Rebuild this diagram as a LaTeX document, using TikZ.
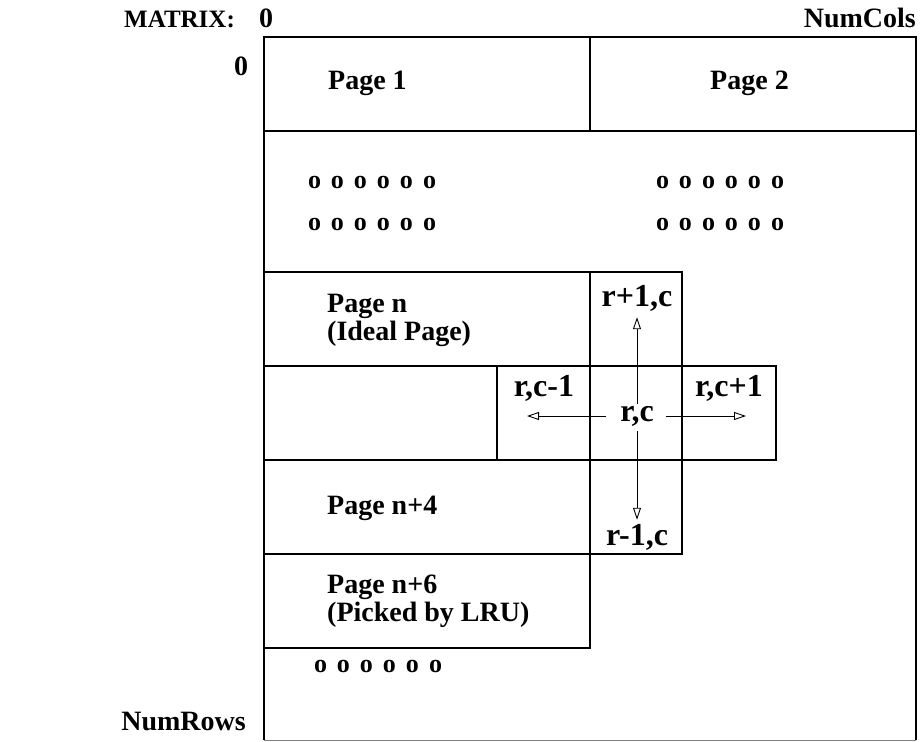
\documentclass[tikz,border=0pt]{standalone}
\usepackage{fontspec}
\setmainfont{Liberation Serif}
\usetikzlibrary{arrows.meta}

\newcommand\orow{o\hspace{10pt}o\hspace{10pt}o\hspace{10pt}o\hspace{10pt}o\hspace{10pt}o}

\tikzset{
  lbl/.style={font=\fontsize{28}{28}\selectfont\bfseries, inner sep=0pt},
  celllbl/.style={font=\fontsize{32}{32}\selectfont\bfseries, inner sep=0pt},
  pagelbl/.style={lbl, anchor=west, align=left},
  dotrow/.style={font=\fontsize{26}{27}\selectfont\bfseries, inner sep=0pt},
  cell/.style={line width=1.1pt},
  move/.style={->, line width=0.9pt},
}

\begin{document}
\begin{tikzpicture}[x=1pt, y=-1pt, >={Triangle[open, length=12pt, width=8pt]}]
  \useasboundingbox (0,0) rectangle (920,741);

  % Header and axis labels
  \node[lbl, font=\fontsize{25}{26}\selectfont\bfseries, anchor=base west] (matrix) at (124,28) {MATRIX:};
  \node[lbl, anchor=base] (col0) at (266,28) {0};
  \node[lbl, anchor=base east] (numcols) at (916,28) {NumCols};
  \node[lbl] (row0) at (241,66) {0};
  \node[lbl, anchor=east] (numrows) at (246,721) {NumRows};

  % Outer matrix, bottom edge is faint
  \draw[cell] (264,740) -- (264,37) -- (916,37) -- (916,740);
  \draw[gray, thin] (264,740) -- (916,740);

  % First row: Page 1 and Page 2
  \draw[cell] (264,131) -- (916,131);
  \draw[cell] (590,37) -- (590,131);
  \node[pagelbl] (page1) at (328,83) {Page 1};
  \node[pagelbl] (page2) at (710,83) {Page 2};

  % Further pages
  \node[dotrow] (dotsa) at (372,183) {\orow};
  \node[dotrow] (dotsb) at (372,225) {\orow};
  \node[dotrow] (dotsc) at (720,183) {\orow};
  \node[dotrow] (dotsd) at (720,225) {\orow};
  \node[dotrow] (dotse) at (378,666) {\orow};

  % Page n and its neighbours
  \draw[cell] (264,272) rectangle (590,366);
  \draw[cell] (590,272) rectangle (682,366);
  \draw[cell] (264,366) rectangle (497,460);
  \draw[cell] (497,366) rectangle (590,460);
  \draw[cell] (590,366) rectangle (682,460);
  \draw[cell] (682,366) rectangle (776,460);
  \draw[cell] (264,460) rectangle (590,554);
  \draw[cell] (590,460) rectangle (682,554);
  \draw[cell] (264,554) rectangle (590,648);

  \node[pagelbl] (pagen) at (327,320) {Page n\\(Ideal Page)};
  \node[pagelbl] (pagen4) at (327,508) {Page n+4};
  \node[pagelbl] (pagen6) at (327,601) {Page n+6\\(Picked by LRU)};

  % Cell r,c and the four cells round it
  \node[celllbl] (rc) at (637,416) {r,c};
  \node[celllbl] (rp1) at (637,298) {r+1,c};
  \node[celllbl] (rm1) at (637,537) {r-1,c};
  \node[celllbl] (cm1) at (544,388) {r,c-1};
  \node[celllbl] (cp1) at (729,388) {r,c+1};
  \coordinate (cm1tip) at (527,416);
  \coordinate (cp1tip) at (746,416);

  \draw[move, shorten <=2pt, shorten >=6pt] (rc.north) -- (rp1.south);
  \draw[move, shorten <=5pt, shorten >=4pt] (rc.south) -- (rm1.north);
  \draw[move, shorten <=14pt] (rc.west) -- (cm1tip);
  \draw[move, shorten <=12pt] (rc.east) -- (cp1tip);
\end{tikzpicture}
\end{document}
